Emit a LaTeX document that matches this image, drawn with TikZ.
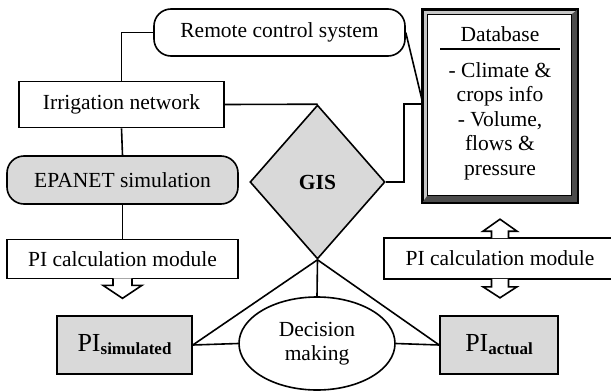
\documentclass[tikz,border=0pt]{standalone}
\usepackage{fontspec}
\setmainfont{Liberation Serif}
\usetikzlibrary{shapes.geometric,calc}
\definecolor{boxgray}{gray}{0.85}

\begin{document}
\begin{tikzpicture}[x=1pt,y=-1pt,line width=1.6pt,
    font=\fontsize{21.5}{24.5}\selectfont,
    plainbox/.style={draw,rectangle,inner sep=0pt},
    roundbox/.style={draw,rectangle,rounded corners=17pt,inner sep=0pt},
    greybox/.style={draw,rectangle,fill=boxgray,inner sep=0pt},
    hollowarrow/.style={draw,fill=white,line join=miter}]

    \useasboundingbox (0,0) rectangle (611,391);
    \clip (0,0) rectangle (611,391);

    % boxes
    \node[roundbox,minimum width=251pt,minimum height=47pt] (remote) at (279.5,32.5) {Remote control system};
    \node[plainbox,minimum width=205pt,minimum height=46pt] (irrig) at (121.5,104.5) {Irrigation network};
    \node[roundbox,fill=boxgray,minimum width=231pt,minimum height=48pt] (epanet) at (122.5,180) {EPANET simulation};
    \node[draw,diamond,fill=boxgray,inner sep=0pt,minimum width=135pt,minimum height=154pt] (gis) at (317.5,182) {\bfseries GIS};
    \node[plainbox,minimum width=231pt,minimum height=39pt] (calcL) at (122.5,259) {PI calculation module};
    \node[plainbox,minimum width=232pt,minimum height=41pt] (calcR) at (500,258.5) {PI calculation module};
    \node[greybox,minimum width=135pt,minimum height=58pt] (psim) at (124.5,345)
        {{\fontsize{26}{28}\selectfont PI}\raisebox{-3pt}{\fontsize{17}{19}\selectfont\bfseries simulated}};
    \node[greybox,minimum width=118pt,minimum height=58pt] (pact) at (499,345)
        {{\fontsize{26}{28}\selectfont PI}\raisebox{-3pt}{\fontsize{17}{19}\selectfont\bfseries actual}};
    \node[draw,ellipse,align=center,inner sep=0pt,minimum width=156pt,minimum height=93pt] (decide) at (317,343.5) {Decision\\making};

    % database frame
    \node[draw,rectangle,fill=gray!45,minimum width=154pt,minimum height=192pt] (db) at (500,106) {};
    \fill[black!70] (db.north east) -- (db.south east) -- (db.south west)
        -- ([shift={(5,-7)}]db.south west) -- ([shift={(-6,-7)}]db.south east)
        -- ([shift={(-6,5)}]db.north east) -- cycle;
    \draw[line width=1.2pt,fill=white] ([shift={(5,5)}]db.north west) rectangle ([shift={(-6,-7)}]db.south east);
    \draw (db.north west) rectangle (db.south east);
    \node (dbtitle) at (500,34) {Database};
    \coordinate (ruleL) at (440,49);
    \coordinate (ruleR) at (560,49);
    \draw[line width=1.2pt] (ruleL) -- (ruleR);
    \node[align=center] (dbtext) at (500,121) {- Climate \&\\crops info\\- Volume,\\flows \&\\pressure};

    % connectors
    \coordinate (dbjoin) at (423,104);
    \draw (irrig.north) |- (remote.west);
    \draw (irrig.east) -- (gis.north);
    \draw (irrig.south) -- (epanet.north);
    \draw (epanet.south) -- (calcL.north);
    \draw (remote.east) -- (dbjoin);
    \draw (gis.east) -- ++(18,0) |- (dbjoin);
    \draw (gis.south) -- (decide.north);
    \draw (gis.south) -- (psim.east);
    \draw (gis.south) -- (pact.west);
    \draw (psim.east) -- (decide.west);
    \draw (decide.east) -- (pact.west);

    % hollow block arrows
    \draw[hollowarrow] ($(calcL.south)+(-9.5,-1)$) -- ++(0,7) -- ++(-10,0)
        -- ++(19.5,13) -- ++(19.5,-13) -- ++(-10,0) -- ++(0,-7);
    \draw[hollowarrow] ($(calcR.north)+(-8.5,1)$) -- ++(0,-7) -- ++(-8.5,0)
        -- ++(17,-12) -- ++(17,12) -- ++(-8.5,0) -- ++(0,7);
    \draw[hollowarrow] ($(calcR.south)+(-8.5,-1)$) -- ++(0,8) -- ++(-8.5,0)
        -- ++(17,11) -- ++(17,-11) -- ++(-8.5,0) -- ++(0,-8);
\end{tikzpicture}
\end{document}
